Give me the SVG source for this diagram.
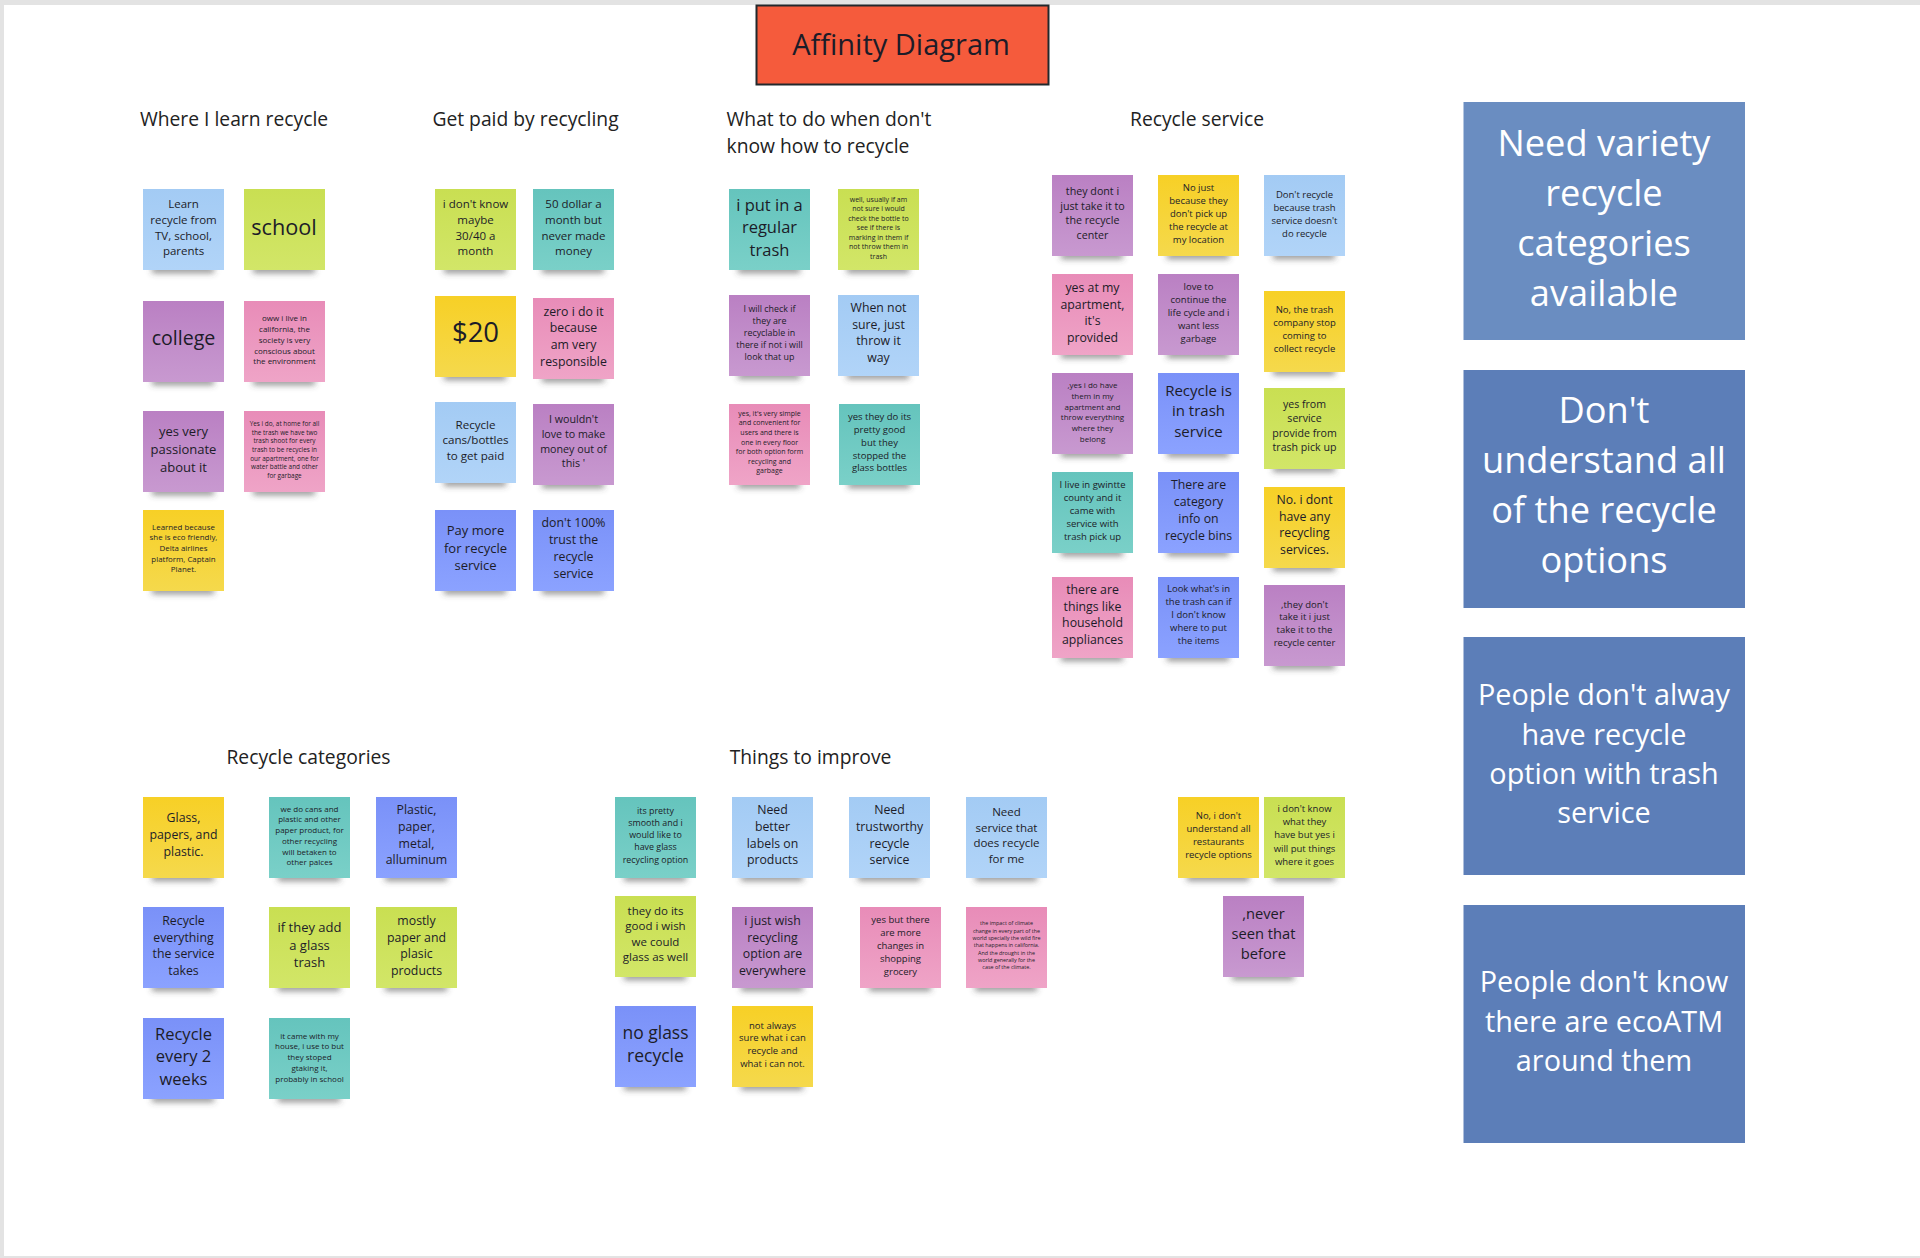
<svg xmlns="http://www.w3.org/2000/svg" xmlns:xlink="http://www.w3.org/1999/xlink" width="1920" height="1258" viewBox="0 0 1920 1258">
<style>
text{font-family:"Open Sans","Noto Sans","DejaVu Sans",sans-serif;text-anchor:middle;dominant-baseline:central;fill:#1c1c28;transform:translateY(-1.2px)}
.n{width:81px;height:81px}
.blue{fill:url(#gBlue)}.green{fill:url(#gGreen)}.yellow{fill:url(#gYellow)}.teal{fill:url(#gTeal)}.purple{fill:url(#gPurple)}.pink{fill:url(#gPink)}.indigo{fill:url(#gIndigo)}
.h{font-size:19.3px;fill:#222}
.big{fill:#fff}
</style>
<defs>
<linearGradient id="gBlue" x1="0" y1="0" x2="0" y2="1"><stop offset="0" stop-color="#a3cbf4"/><stop offset="1" stop-color="#b1d4f8"/></linearGradient>
<linearGradient id="gGreen" x1="0" y1="0" x2="0" y2="1"><stop offset="0" stop-color="#c9df52"/><stop offset="1" stop-color="#d2e668"/></linearGradient>
<linearGradient id="gYellow" x1="0" y1="0" x2="0" y2="1"><stop offset="0" stop-color="#f7d026"/><stop offset="1" stop-color="#f5d94c"/></linearGradient>
<linearGradient id="gTeal" x1="0" y1="0" x2="0" y2="1"><stop offset="0" stop-color="#65c4bd"/><stop offset="1" stop-color="#7ad0c8"/></linearGradient>
<linearGradient id="gPurple" x1="0" y1="0" x2="0" y2="1"><stop offset="0" stop-color="#ba80c3"/><stop offset="1" stop-color="#c899d0"/></linearGradient>
<linearGradient id="gPink" x1="0" y1="0" x2="0" y2="1"><stop offset="0" stop-color="#e88cb8"/><stop offset="1" stop-color="#efa4c7"/></linearGradient>
<linearGradient id="gIndigo" x1="0" y1="0" x2="0" y2="1"><stop offset="0" stop-color="#7a91f8"/><stop offset="1" stop-color="#8ba2ff"/></linearGradient>
<filter id="blur" x="-30%" y="-300%" width="160%" height="700%"><feGaussianBlur stdDeviation="3.2"/></filter>
<rect id="sh" x="9" y="77" width="62" height="7" fill="#444" fill-opacity=".6" filter="url(#blur)"/>
</defs>
<rect width="1920" height="1258" fill="#e3e3e3"/>
<rect x="4" y="5" width="1916" height="1251" fill="#fff"/>

<g id="title"><rect x="756.5" y="5.5" width="292" height="79" fill="#f55b3c" stroke="#22282c" stroke-width="2"/><text x="901" y="45" font-size="29">Affinity Diagram</text></g>

<g id="headings">
<text class="h" x="234" y="120">Where I learn recycle</text>
<text class="h" x="525.500" y="120">Get paid by recycling</text>
<text class="h" x="726.500" y="120" style="text-anchor:start">What to do when don't</text>
<text class="h" x="726.500" y="147" style="text-anchor:start">know how to recycle</text>
<text class="h" x="1197" y="120">Recycle service</text>
<text class="h" x="308.500" y="758">Recycle categories</text>
<text class="h" x="810.500" y="758">Things to improve</text>
</g>

<g id="n1"><use href="#sh" x="143" y="189"/><rect class="n blue" x="143" y="189"/><text font-size="11.5"><tspan x="183.500" y="204">Learn</tspan><tspan x="183.500" y="220">recycle from</tspan><tspan x="183.500" y="236">TV, school,</tspan><tspan x="183.500" y="251">parents</tspan></text></g>
<g id="n2"><use href="#sh" x="244" y="189"/><rect class="n green" x="244" y="189"/><text font-size="21.7"><tspan x="284" y="227">school</tspan></text></g>
<g id="n3"><use href="#sh" x="143" y="301"/><rect class="n purple" x="143" y="301"/><text font-size="19.6"><tspan x="183.500" y="338">college</tspan></text></g>
<g id="n4"><use href="#sh" x="244" y="301"/><rect class="n pink" x="244" y="301"/><text font-size="8"><tspan x="284.500" y="318">oww i live in</tspan><tspan x="284.500" y="329">california, the</tspan><tspan x="284.500" y="340">society is very</tspan><tspan x="284.500" y="351">conscious about</tspan><tspan x="284.500" y="361">the environment</tspan></text></g>
<g id="n5"><use href="#sh" x="143" y="411"/><rect class="n purple" x="143" y="411"/><text font-size="13"><tspan x="183.500" y="432">yes very</tspan><tspan x="183.500" y="450">passionate</tspan><tspan x="183.500" y="468">about it</tspan></text></g>
<g id="n6"><use href="#sh" x="244" y="411"/><rect class="n pink" x="244" y="411"/><text font-size="6.4"><tspan x="284.500" y="424">Yes i do, at home for all</tspan><tspan x="284.500" y="433">the trash we have two</tspan><tspan x="284.500" y="441">trash shoot for every</tspan><tspan x="284.500" y="450">trash to be recycles in</tspan><tspan x="284.500" y="459">our apartment, one for</tspan><tspan x="284.500" y="467">water battle and other</tspan><tspan x="284.500" y="476">for garbage</tspan></text></g>
<g id="n7"><use href="#sh" x="143" y="510"/><rect class="n yellow" x="143" y="510"/><text font-size="7.9"><tspan x="183.500" y="528">Learned because</tspan><tspan x="183.500" y="538">she is eco friendly,</tspan><tspan x="183.500" y="549">Delta airlines</tspan><tspan x="183.500" y="560">platform, Captain</tspan><tspan x="183.500" y="570">Planet.</tspan></text></g>

<g id="n8"><use href="#sh" x="435" y="189"/><rect class="n green" x="435" y="189"/><text font-size="11.5"><tspan x="475.500" y="204">i don't know</tspan><tspan x="475.500" y="220">maybe</tspan><tspan x="475.500" y="236">30/40 a</tspan><tspan x="475.500" y="251">month</tspan></text></g>
<g id="n9"><use href="#sh" x="533" y="189"/><rect class="n teal" x="533" y="189"/><text font-size="11.5"><tspan x="573.500" y="204">50 dollar a</tspan><tspan x="573.500" y="220">month but</tspan><tspan x="573.500" y="236">never made</tspan><tspan x="573.500" y="251">money</tspan></text></g>
<g id="n10"><use href="#sh" x="435" y="296"/><rect class="n yellow" x="435" y="296"/><text font-size="27.5"><tspan x="475.500" y="332">$20</tspan></text></g>
<g id="n11"><use href="#sh" x="533" y="298"/><rect class="n pink" x="533" y="298"/><text font-size="12.3"><tspan x="573.500" y="312">zero i do it</tspan><tspan x="573.500" y="328">because</tspan><tspan x="573.500" y="345">am very</tspan><tspan x="573.500" y="362">responsible</tspan></text></g>
<g id="n12"><use href="#sh" x="435" y="402"/><rect class="n blue" x="435" y="402"/><text font-size="11.6"><tspan x="475.500" y="425">Recycle</tspan><tspan x="475.500" y="440">cans/bottles</tspan><tspan x="475.500" y="456">to get paid</tspan></text></g>
<g id="n13"><use href="#sh" x="533" y="404"/><rect class="n purple" x="533" y="404"/><text font-size="10.7"><tspan x="573.500" y="420">I wouldn't</tspan><tspan x="573.500" y="435">love to make</tspan><tspan x="573.500" y="450">money out of</tspan><tspan x="573.500" y="464">this '</tspan></text></g>
<g id="n14"><use href="#sh" x="435" y="510"/><rect class="n indigo" x="435" y="510"/><text font-size="13"><tspan x="475.500" y="531">Pay more</tspan><tspan x="475.500" y="549">for recycle</tspan><tspan x="475.500" y="566">service</tspan></text></g>
<g id="n15"><use href="#sh" x="533" y="510"/><rect class="n indigo" x="533" y="510"/><text font-size="12.3"><tspan x="573.500" y="523">don't 100%</tspan><tspan x="573.500" y="540">trust the</tspan><tspan x="573.500" y="557">recycle</tspan><tspan x="573.500" y="574">service</tspan></text></g>

<g id="n16"><use href="#sh" x="729" y="189"/><rect class="n teal" x="729" y="189"/><text font-size="16.5"><tspan x="769.500" y="205">i put in a</tspan><tspan x="769.500" y="227">regular</tspan><tspan x="769.500" y="250">trash</tspan></text></g>
<g id="n17"><use href="#sh" x="838" y="189"/><rect class="n green" x="838" y="189"/><text font-size="7"><tspan x="878.500" y="200">well, usually if am</tspan><tspan x="878.500" y="209">not sure i would</tspan><tspan x="878.500" y="219">check the bottle to</tspan><tspan x="878.500" y="228">see if there is</tspan><tspan x="878.500" y="238">marking in them if</tspan><tspan x="878.500" y="247">not throw them in</tspan><tspan x="878.500" y="257">trash</tspan></text></g>
<g id="n18"><use href="#sh" x="729" y="295"/><rect class="n purple" x="729" y="295"/><text font-size="8.9"><tspan x="769.500" y="309">I will check if</tspan><tspan x="769.500" y="321">they are</tspan><tspan x="769.500" y="333">recyclable in</tspan><tspan x="769.500" y="345">there if not i will</tspan><tspan x="769.500" y="357">look that up</tspan></text></g>
<g id="n19"><use href="#sh" x="838" y="295"/><rect class="n blue" x="838" y="295"/><text font-size="12.3"><tspan x="878.500" y="308">When not</tspan><tspan x="878.500" y="325">sure, just</tspan><tspan x="878.500" y="341">throw it</tspan><tspan x="878.500" y="358">way</tspan></text></g>
<g id="n20"><use href="#sh" x="729" y="404"/><rect class="n pink" x="729" y="404"/><text font-size="7"><tspan x="769.500" y="414">yes, it's very simple</tspan><tspan x="769.500" y="423">and convenient for</tspan><tspan x="769.500" y="433">users and there is</tspan><tspan x="769.500" y="443">one in every floor</tspan><tspan x="769.500" y="452">for both option form</tspan><tspan x="769.500" y="462">recycling and</tspan><tspan x="769.500" y="471">garbage</tspan></text></g>
<g id="n21"><use href="#sh" x="839" y="404"/><rect class="n teal" x="839" y="404"/><text font-size="9.5"><tspan x="879.500" y="417">yes they do its</tspan><tspan x="879.500" y="430">pretty good</tspan><tspan x="879.500" y="443">but they</tspan><tspan x="879.500" y="456">stopped the</tspan><tspan x="879.500" y="468">glass bottles</tspan></text></g>

<g id="n22"><use href="#sh" x="1052" y="175"/><rect class="n purple" x="1052" y="175"/><text font-size="10.7"><tspan x="1092.500" y="192">they dont i</tspan><tspan x="1092.500" y="207">just take it to</tspan><tspan x="1092.500" y="221">the recycle</tspan><tspan x="1092.500" y="236">center</tspan></text></g>
<g id="n23"><use href="#sh" x="1158" y="175"/><rect class="n yellow" x="1158" y="175"/><text font-size="9.5"><tspan x="1198.500" y="188">No just</tspan><tspan x="1198.500" y="201">because they</tspan><tspan x="1198.500" y="214">don't pick up</tspan><tspan x="1198.500" y="227">the recycle at</tspan><tspan x="1198.500" y="240">my location</tspan></text></g>
<g id="n24"><use href="#sh" x="1264" y="175"/><rect class="n blue" x="1264" y="175"/><text font-size="9.5"><tspan x="1304.500" y="195">Don't recycle</tspan><tspan x="1304.500" y="208">because trash</tspan><tspan x="1304.500" y="221">service doesn't</tspan><tspan x="1304.500" y="234">do recycle</tspan></text></g>
<g id="n25"><use href="#sh" x="1052" y="274"/><rect class="n pink" x="1052" y="274"/><text font-size="12.3"><tspan x="1092.500" y="288">yes at my</tspan><tspan x="1092.500" y="305">apartment,</tspan><tspan x="1092.500" y="321">it's</tspan><tspan x="1092.500" y="338">provided</tspan></text></g>
<g id="n26"><use href="#sh" x="1158" y="274"/><rect class="n purple" x="1158" y="274"/><text font-size="9.5"><tspan x="1198.500" y="287">love to</tspan><tspan x="1198.500" y="300">continue the</tspan><tspan x="1198.500" y="313">life cycle and i</tspan><tspan x="1198.500" y="326">want less</tspan><tspan x="1198.500" y="339">garbage</tspan></text></g>
<g id="n27"><use href="#sh" x="1264" y="291"/><rect class="n yellow" x="1264" y="291"/><text font-size="9.5"><tspan x="1304.500" y="310">No, the trash</tspan><tspan x="1304.500" y="323">company stop</tspan><tspan x="1304.500" y="336">coming to</tspan><tspan x="1304.500" y="349">collect recycle</tspan></text></g>
<g id="n28"><use href="#sh" x="1052" y="373"/><rect class="n purple" x="1052" y="373"/><text font-size="8"><tspan x="1092.500" y="385">,yes i do have</tspan><tspan x="1092.500" y="396">them in my</tspan><tspan x="1092.500" y="407">apartment and</tspan><tspan x="1092.500" y="417">throw everything</tspan><tspan x="1092.500" y="428">where they</tspan><tspan x="1092.500" y="439">belong</tspan></text></g>
<g id="n29"><use href="#sh" x="1158" y="373"/><rect class="n indigo" x="1158" y="373"/><text font-size="15"><tspan x="1198.500" y="391">Recycle is</tspan><tspan x="1198.500" y="411">in trash</tspan><tspan x="1198.500" y="432">service</tspan></text></g>
<g id="n30"><use href="#sh" x="1264" y="388"/><rect class="n green" x="1264" y="388"/><text font-size="10.6"><tspan x="1304.500" y="405">yes from</tspan><tspan x="1304.500" y="419">service</tspan><tspan x="1304.500" y="434">provide from</tspan><tspan x="1304.500" y="448">trash pick up</tspan></text></g>
<g id="n31"><use href="#sh" x="1052" y="472"/><rect class="n teal" x="1052" y="472"/><text font-size="9.5"><tspan x="1092.500" y="485">I live in gwintte</tspan><tspan x="1092.500" y="498">county and it</tspan><tspan x="1092.500" y="511">came with</tspan><tspan x="1092.500" y="524">service with</tspan><tspan x="1092.500" y="537">trash pick up</tspan></text></g>
<g id="n32"><use href="#sh" x="1158" y="472"/><rect class="n indigo" x="1158" y="472"/><text font-size="12.3"><tspan x="1198.500" y="485">There are</tspan><tspan x="1198.500" y="502">category</tspan><tspan x="1198.500" y="519">info on</tspan><tspan x="1198.500" y="536">recycle bins</tspan></text></g>
<g id="n33"><use href="#sh" x="1264" y="487"/><rect class="n yellow" x="1264" y="487"/><text font-size="12.3"><tspan x="1304.500" y="500">No. i dont</tspan><tspan x="1304.500" y="517">have any</tspan><tspan x="1304.500" y="533">recycling</tspan><tspan x="1304.500" y="550">services.</tspan></text></g>
<g id="n34"><use href="#sh" x="1052" y="577"/><rect class="n pink" x="1052" y="577"/><text font-size="12.3"><tspan x="1092.500" y="590">there are</tspan><tspan x="1092.500" y="607">things like</tspan><tspan x="1092.500" y="623">household</tspan><tspan x="1092.500" y="640">appliances</tspan></text></g>
<g id="n35"><use href="#sh" x="1158" y="577"/><rect class="n indigo" x="1158" y="577"/><text font-size="9.5"><tspan x="1198.500" y="589">Look what's in</tspan><tspan x="1198.500" y="602">the trash can if</tspan><tspan x="1198.500" y="615">I don't know</tspan><tspan x="1198.500" y="628">where to put</tspan><tspan x="1198.500" y="641">the items</tspan></text></g>
<g id="n36"><use href="#sh" x="1264" y="585"/><rect class="n purple" x="1264" y="585"/><text font-size="9.5"><tspan x="1304.500" y="605">,they don't</tspan><tspan x="1304.500" y="617">take it i just</tspan><tspan x="1304.500" y="630">take it to the</tspan><tspan x="1304.500" y="643">recycle center</tspan></text></g>

<g id="n37"><use href="#sh" x="143" y="797"/><rect class="n yellow" x="143" y="797"/><text font-size="12.3"><tspan x="183.500" y="818">Glass,</tspan><tspan x="183.500" y="835">papers, and</tspan><tspan x="183.500" y="852">plastic.</tspan></text></g>
<g id="n38"><use href="#sh" x="269" y="797"/><rect class="n teal" x="269" y="797"/><text font-size="8"><tspan x="309.500" y="809">we do cans and</tspan><tspan x="309.500" y="819">plastic and other</tspan><tspan x="309.500" y="830">paper product, for</tspan><tspan x="309.500" y="841">other recycling</tspan><tspan x="309.500" y="852">will betaken to</tspan><tspan x="309.500" y="862">other palces</tspan></text></g>
<g id="n39"><use href="#sh" x="376" y="797"/><rect class="n indigo" x="376" y="797"/><text font-size="12.3"><tspan x="416.500" y="810">Plastic,</tspan><tspan x="416.500" y="827">paper,</tspan><tspan x="416.500" y="844">metal,</tspan><tspan x="416.500" y="860">alluminum</tspan></text></g>
<g id="n40"><use href="#sh" x="143" y="907"/><rect class="n indigo" x="143" y="907"/><text font-size="12.3"><tspan x="183.500" y="921">Recycle</tspan><tspan x="183.500" y="938">everything</tspan><tspan x="183.500" y="954">the service</tspan><tspan x="183.500" y="971">takes</tspan></text></g>
<g id="n41"><use href="#sh" x="269" y="907"/><rect class="n green" x="269" y="907"/><text font-size="13"><tspan x="309.500" y="928">if they add</tspan><tspan x="309.500" y="946">a glass</tspan><tspan x="309.500" y="963">trash</tspan></text></g>
<g id="n42"><use href="#sh" x="376" y="907"/><rect class="n green" x="376" y="907"/><text font-size="12.3"><tspan x="416.500" y="921">mostly</tspan><tspan x="416.500" y="938">paper and</tspan><tspan x="416.500" y="954">plasic</tspan><tspan x="416.500" y="971">products</tspan></text></g>
<g id="n43"><use href="#sh" x="143" y="1018"/><rect class="n indigo" x="143" y="1018"/><text font-size="16.500"><tspan x="183.500" y="1034">Recycle</tspan><tspan x="183.500" y="1056">every 2</tspan><tspan x="183.500" y="1079">weeks</tspan></text></g>
<g id="n44"><use href="#sh" x="269" y="1018"/><rect class="n teal" x="269" y="1018"/><text font-size="8"><tspan x="309.500" y="1036">it came with my</tspan><tspan x="309.500" y="1046">house, i use to but</tspan><tspan x="309.500" y="1057">they stoped</tspan><tspan x="309.500" y="1068">gtaking it,</tspan><tspan x="309.500" y="1079">probably in school</tspan></text></g>

<g id="n45"><use href="#sh" x="615" y="797"/><rect class="n teal" x="615" y="797"/><text font-size="8.9"><tspan x="655.500" y="811">its pretty</tspan><tspan x="655.500" y="823">smooth and i</tspan><tspan x="655.500" y="835">would like to</tspan><tspan x="655.500" y="847">have glass</tspan><tspan x="655.500" y="860">recycling option</tspan></text></g>
<g id="n46"><use href="#sh" x="732" y="797"/><rect class="n blue" x="732" y="797"/><text font-size="12.3"><tspan x="772.500" y="810">Need</tspan><tspan x="772.500" y="827">better</tspan><tspan x="772.500" y="844">labels on</tspan><tspan x="772.500" y="860">products</tspan></text></g>
<g id="n47"><use href="#sh" x="849" y="797"/><rect class="n blue" x="849" y="797"/><text font-size="12.3"><tspan x="889.500" y="810">Need</tspan><tspan x="889.500" y="827">trustworthy</tspan><tspan x="889.500" y="844">recycle</tspan><tspan x="889.500" y="860">service</tspan></text></g>
<g id="n48"><use href="#sh" x="966" y="797"/><rect class="n blue" x="966" y="797"/><text font-size="11.5"><tspan x="1006.500" y="812">Need</tspan><tspan x="1006.500" y="828">service that</tspan><tspan x="1006.500" y="843">does recycle</tspan><tspan x="1006.500" y="859">for me</tspan></text></g>
<g id="n49"><use href="#sh" x="615" y="896"/><rect class="n green" x="615" y="896"/><text font-size="11.5"><tspan x="655.500" y="911">they do its</tspan><tspan x="655.500" y="926">good i wish</tspan><tspan x="655.500" y="942">we could</tspan><tspan x="655.500" y="957">glass as well</tspan></text></g>
<g id="n50"><use href="#sh" x="732" y="907"/><rect class="n purple" x="732" y="907"/><text font-size="12.3"><tspan x="772.500" y="921">i just wish</tspan><tspan x="772.500" y="938">recycling</tspan><tspan x="772.500" y="954">option are</tspan><tspan x="772.500" y="971">everywhere</tspan></text></g>
<g id="n51"><use href="#sh" x="860" y="907"/><rect class="n pink" x="860" y="907"/><text font-size="9.5"><tspan x="900.500" y="920">yes but there</tspan><tspan x="900.500" y="933">are more</tspan><tspan x="900.500" y="946">changes in</tspan><tspan x="900.500" y="959">shopping</tspan><tspan x="900.500" y="972">grocery</tspan></text></g>
<g id="n52"><use href="#sh" x="966" y="907"/><rect class="n pink" x="966" y="907"/><text font-size="5.4"><tspan x="1006.500" y="924">the impact of climate</tspan><tspan x="1006.500" y="932">change in every part of the</tspan><tspan x="1006.500" y="939">world specially the wild fire</tspan><tspan x="1006.500" y="946">that happens in california.</tspan><tspan x="1006.500" y="954">And the drought in the</tspan><tspan x="1006.500" y="961">world generally for the</tspan><tspan x="1006.500" y="968">case of the climate.</tspan></text></g>
<g id="n53"><use href="#sh" x="615" y="1006"/><rect class="n indigo" x="615" y="1006"/><text font-size="17.5"><tspan x="655.500" y="1033">no glass</tspan><tspan x="655.500" y="1056">recycle</tspan></text></g>
<g id="n54"><use href="#sh" x="732" y="1006"/><rect class="n yellow" x="732" y="1006"/><text font-size="9.5"><tspan x="772.500" y="1026">not always</tspan><tspan x="772.500" y="1038">sure what i can</tspan><tspan x="772.500" y="1051">recycle and</tspan><tspan x="772.500" y="1064">what i can not.</tspan></text></g>
<g id="n55"><use href="#sh" x="1178" y="797"/><rect class="n yellow" x="1178" y="797"/><text font-size="9.5"><tspan x="1218.500" y="816">No, i don't</tspan><tspan x="1218.500" y="829">understand all</tspan><tspan x="1218.500" y="842">restaurants</tspan><tspan x="1218.500" y="855">recycle options</tspan></text></g>
<g id="n56"><use href="#sh" x="1264" y="797"/><rect class="n green" x="1264" y="797"/><text font-size="9.5"><tspan x="1304.500" y="809">i don't know</tspan><tspan x="1304.500" y="822">what they</tspan><tspan x="1304.500" y="835">have but yes i</tspan><tspan x="1304.500" y="849">will put things</tspan><tspan x="1304.500" y="862">where it goes</tspan></text></g>
<g id="n57"><use href="#sh" x="1223" y="896"/><rect class="n purple" x="1223" y="896"/><text font-size="14.7"><tspan x="1263.500" y="914">,never</tspan><tspan x="1263.500" y="934">seen that</tspan><tspan x="1263.500" y="954">before</tspan></text></g>

<g id="insight1"><rect x="1463.500" y="102" width="281.500" height="238" fill="#6a8dc1"/><text class="big" font-size="36.2"><tspan x="1604" y="143">Need variety</tspan><tspan x="1604" y="193">recycle</tspan><tspan x="1604" y="243">categories</tspan><tspan x="1604" y="293">available</tspan></text></g>
<g id="insight2"><rect x="1463.500" y="370" width="281.500" height="238" fill="#5c7eb8"/><text class="big" font-size="36.2"><tspan x="1604" y="410">Don't</tspan><tspan x="1604" y="460">understand all</tspan><tspan x="1604" y="510">of the recycle</tspan><tspan x="1604" y="560">options</tspan></text></g>
<g id="insight3"><rect x="1463.500" y="637" width="281.500" height="238" fill="#5c7eb8"/><text class="big" font-size="28.8"><tspan x="1604" y="694">People don't alway</tspan><tspan x="1604" y="734">have recycle</tspan><tspan x="1604" y="773">option with trash</tspan><tspan x="1604" y="812">service</tspan></text></g>
<g id="insight4"><rect x="1463.500" y="905" width="281.500" height="238" fill="#5c7eb8"/><text class="big" font-size="28.8"><tspan x="1604" y="981">People don't know</tspan><tspan x="1604" y="1021">there are ecoATM</tspan><tspan x="1604" y="1060">around them</tspan></text></g>
</svg>
